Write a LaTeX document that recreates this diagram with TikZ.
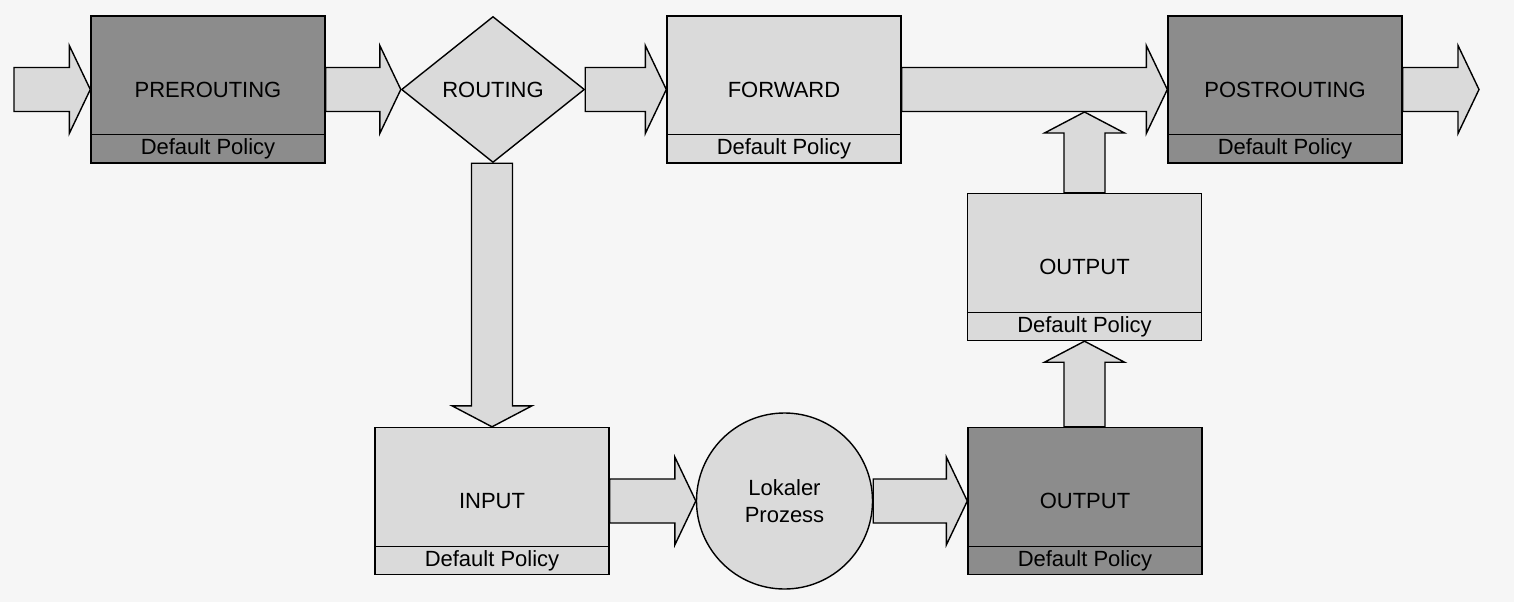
\documentclass[tikz,border=0pt]{standalone}
\usepackage{fontspec}
\setmainfont{Liberation Sans}
\usetikzlibrary{shapes.geometric,calc}
\definecolor{bg}{HTML}{F6F6F6}
\definecolor{lightf}{HTML}{DADADA}
\definecolor{darkf}{HTML}{8C8C8C}
\begin{document}
\begin{tikzpicture}[x=1pt,y=-1pt,
  lbl/.style={font=\fontsize{22}{27}\selectfont},
  box/.style={lbl, draw=black, line width=1.4pt, minimum width=234pt, minimum height=147pt, inner sep=0pt},
  lightbox/.style={box, fill=lightf},
  darkbox/.style={box, fill=darkf},
  diam/.style={lbl, diamond, draw=black, line width=1.4pt, fill=lightf, minimum width=183pt, minimum height=146pt, inner sep=0pt},
  proc/.style={lbl, circle, draw=black, line width=1.4pt, fill=lightf, minimum size=176pt, inner sep=0pt, align=center},
  divider/.style={draw=black, line width=1.4pt},
  policy/.style={lbl, inner sep=0pt},
  blk/.style={draw=black, line width=1.4pt, fill=lightf, line join=miter},
  harrow/.style={blk, to path={
    ($(\tikztostart)+(0,-22)$) -- ($(\tikztostart -| \tikztotarget)+(-21,-22)$) --
    ($(\tikztostart -| \tikztotarget)+(-21,-44)$) -- (\tikztostart -| \tikztotarget) --
    ($(\tikztostart -| \tikztotarget)+(-21,44)$) -- ($(\tikztostart -| \tikztotarget)+(-21,22)$) --
    ($(\tikztostart)+(0,22)$) -- cycle}},
  darrow/.style={blk, to path={
    ($(\tikztotarget |- \tikztostart)+(-20.5,0)$) -- ($(\tikztotarget)+(-20.5,-21)$) --
    ($(\tikztotarget)+(-40,-21)$) -- (\tikztotarget) --
    ($(\tikztotarget)+(40,-21)$) -- ($(\tikztotarget)+(20.5,-21)$) --
    ($(\tikztotarget |- \tikztostart)+(20.5,0)$) -- cycle}},
  uarrow/.style={blk, to path={
    ($(\tikztotarget |- \tikztostart)+(-20.5,0)$) -- ($(\tikztotarget)+(-20.5,21)$) --
    ($(\tikztotarget)+(-40,21)$) -- (\tikztotarget) --
    ($(\tikztotarget)+(40,21)$) -- ($(\tikztotarget)+(20.5,21)$) --
    ($(\tikztotarget |- \tikztostart)+(20.5,0)$) -- cycle}}
]
\fill[bg] (0,0) rectangle (1514,602);
\useasboundingbox (0,0) rectangle (1514,602);

% nodes
\node[darkbox]  (pre)  at (208,89.5)    {PREROUTING};
\node[diam]     (rout) at (493,89.5)    {ROUTING};
\node[lightbox] (fwd)  at (784,89.5)    {FORWARD};
\node[darkbox]  (post) at (1285,89.5)   {POSTROUTING};
\node[lightbox] (out1) at (1084.5,267)  {OUTPUT};
\node[darkbox]  (out2) at (1085,501)    {OUTPUT};
\node[lightbox] (inp)  at (492,501)     {INPUT};
\node[proc]     (lp)   at (784.5,501)   {Lokaler\\Prozess};
\coordinate (in)   at (14,89.5);
\coordinate (out)  at (1479,89.5);
\coordinate (join) at (1084.5,112);

% divider lines and policy labels
\foreach \b in {pre,fwd,post,out1,out2,inp}{
  \draw[divider] ($(\b.south west)+(0,-29)$) -- ($(\b.south east)+(0,-29)$);
  \node[policy] (\b-pol) at ($(\b.south)+(0,-14.5)$) {Default Policy};
}

% connectors (block arrows)
\draw[harrow] (in) to (pre.west);
\draw[harrow] (pre.east) to (rout.west);
\draw[harrow] (rout.east) to (fwd.west);
\draw[harrow] (fwd.east) to (post.west);
\draw[harrow] (post.east) to (out);
\draw[darrow] (rout.south) to (inp.north);
\draw[harrow] (inp.east) to (lp.west);
\draw[harrow] (lp.east) to (out2.west);
\draw[uarrow] (out2.north) to (out1.south);
\draw[uarrow] (out1.north) to (join);
\end{tikzpicture}
\end{document}
